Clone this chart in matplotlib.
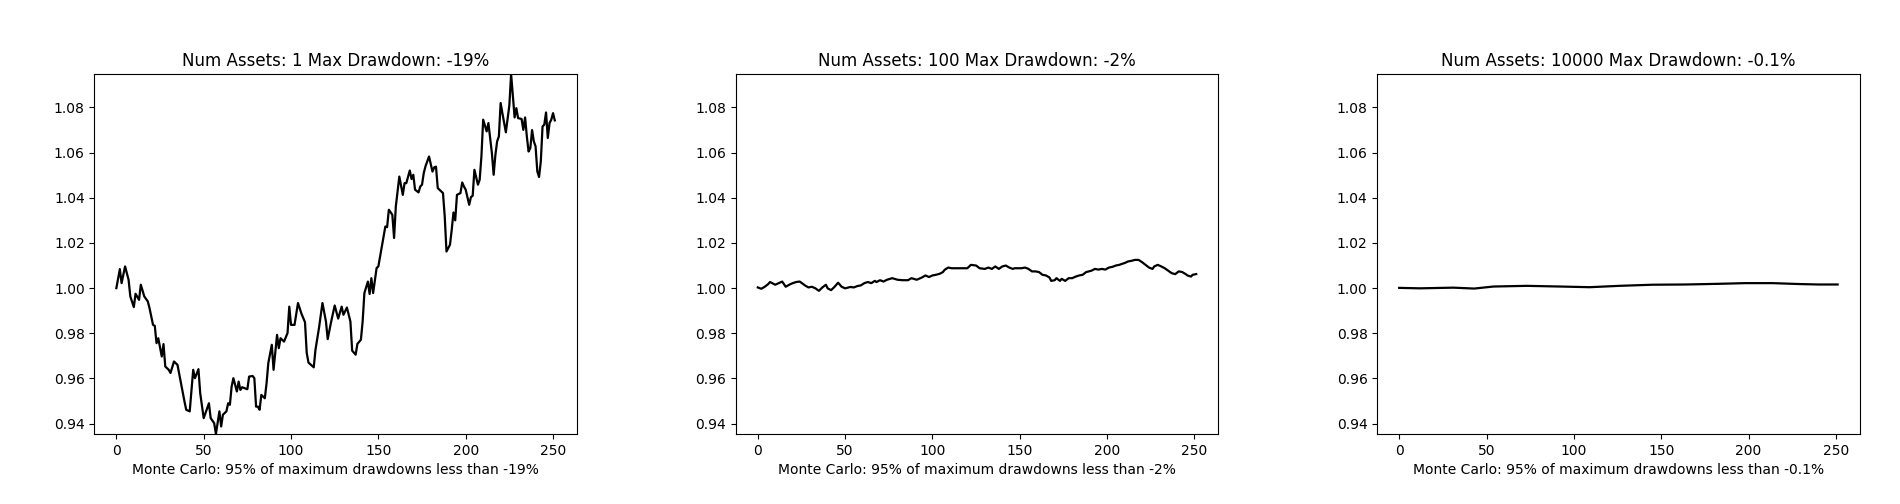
from matplotlib import pyplot as plt
import numpy as np

# values, trading day -> normalised portfolio value
days_1 = [0, 2, 3, 5, 7, 8, 10, 11, 13, 14, 16, 18, 19, 21, 22, 23, 24, 26, 27, 28,
          30, 31, 33, 35, 37, 39, 40, 42, 44, 45, 47, 48, 50, 51, 53, 54, 56, 57, 59, 60,
          61, 63, 64, 65, 66, 67, 69, 70, 71, 72, 75, 76, 78, 79, 80, 81, 82, 83, 85, 86,
          87, 89, 90, 92, 93, 94, 96, 98, 99, 100, 102, 104, 106, 108, 109, 110, 113, 114, 116, 118,
          120, 121, 123, 125, 127, 129, 130, 132, 134, 135, 137, 138, 140, 141, 142, 144, 145, 146, 147, 149,
          150, 152, 154, 155, 156, 158, 159, 160, 162, 164, 165, 166, 168, 169, 170, 171, 173, 174, 175, 176,
          177, 179, 181, 182, 183, 184, 186, 187, 188, 189, 191, 192, 193, 194, 195, 197, 198, 199, 200, 202,
          203, 204, 205, 207, 208, 209, 210, 212, 213, 215, 216, 217, 218, 219, 220, 221, 223, 225, 226, 227,
          228, 229, 230, 232, 233, 234, 235, 236, 237, 238, 239, 240, 241, 242, 243, 244, 245, 246, 247, 248,
          249, 250, 251]
value_1 = [1.0000, 1.0084, 1.0022, 1.0096, 1.0037, 0.9963, 0.9916, 0.9975, 0.9948, 1.0015,
           0.9963, 0.9941, 0.9911, 0.9837, 0.9833, 0.9756, 0.9778, 0.9697, 0.9752, 0.9653,
           0.9638, 0.9624, 0.9675, 0.9660, 0.9579, 0.9498, 0.9461, 0.9454, 0.9638, 0.9601,
           0.9641, 0.9535, 0.9424, 0.9446, 0.9490, 0.9424, 0.9402, 0.9354, 0.9454, 0.9387,
           0.9439, 0.9454, 0.9490, 0.9483, 0.9564, 0.9601, 0.9542, 0.9586, 0.9549, 0.9561,
           0.9552, 0.9608, 0.9611, 0.9601, 0.9475, 0.9475, 0.9461, 0.9527, 0.9512, 0.9579,
           0.9668, 0.9749, 0.9638, 0.9793, 0.9734, 0.9778, 0.9763, 0.9801, 0.9918, 0.9837,
           0.9837, 0.9934, 0.9886, 0.9849, 0.9712, 0.9670, 0.9649, 0.9727, 0.9823, 0.9934,
           0.9852, 0.9774, 0.9852, 0.9923, 0.9865, 0.9918, 0.9882, 0.9914, 0.9852, 0.9723,
           0.9705, 0.9753, 0.9771, 0.9852, 0.9978, 1.0029, 0.9974, 1.0044, 0.9978, 1.0089,
           1.0096, 1.0184, 1.0273, 1.0270, 1.0347, 1.0325, 1.0222, 1.0362, 1.0494, 1.0413,
           1.0465, 1.0465, 1.0521, 1.0483, 1.0502, 1.0436, 1.0424, 1.0450, 1.0458, 1.0510,
           1.0540, 1.0583, 1.0516, 1.0535, 1.0538, 1.0443, 1.0428, 1.0421, 1.0317, 1.0162,
           1.0192, 1.0258, 1.0335, 1.0300, 1.0413, 1.0421, 1.0468, 1.0450, 1.0436, 1.0369,
           1.0403, 1.0409, 1.0524, 1.0458, 1.0480, 1.0583, 1.0746, 1.0694, 1.0731, 1.0598,
           1.0502, 1.0590, 1.0650, 1.0672, 1.0820, 1.0775, 1.0690, 1.0810, 1.0948, 1.0849,
           1.0756, 1.0797, 1.0753, 1.0749, 1.0701, 1.0756, 1.0672, 1.0605, 1.0620, 1.0700,
           1.0650, 1.0628, 1.0517, 1.0492, 1.0561, 1.0716, 1.0724, 1.0778, 1.0665, 1.0731,
           1.0746, 1.0775, 1.0743]

days_100 = [0, 2, 4, 6, 7, 10, 12, 14, 16, 18, 20, 22, 24, 26, 27, 29, 31, 33, 35, 37,
            39, 40, 42, 44, 46, 48, 50, 53, 55, 57, 59, 61, 63, 65, 67, 68, 70, 72, 74, 77,
            80, 83, 86, 88, 91, 94, 96, 98, 100, 102, 104, 106, 107, 109, 111, 114, 117, 120, 122, 125,
            127, 130, 132, 134, 136, 138, 140, 142, 144, 146, 147, 149, 151, 153, 155, 157, 159, 161, 163, 165,
            167, 168, 170, 171, 173, 174, 176, 178, 180, 182, 184, 186, 188, 191, 193, 195, 197, 199, 201, 203,
            205, 207, 208, 210, 212, 214, 216, 218, 220, 222, 224, 226, 227, 229, 231, 233, 235, 237, 239, 241,
            243, 245, 246, 248, 249, 251]
value_100 = [1.0003, 0.9997, 1.0006, 1.0018, 1.0027, 1.0015, 1.0022, 1.0029, 1.0006, 1.0015,
             1.0022, 1.0027, 1.0029, 1.0018, 1.0012, 1.0003, 1.0006, 0.9999, 0.9988, 1.0003,
             1.0015, 0.9999, 0.9991, 1.0006, 1.0024, 1.0006, 0.9999, 1.0005, 1.0003, 1.0009,
             1.0012, 1.0022, 1.0027, 1.0022, 1.0032, 1.0027, 1.0035, 1.0029, 1.0037, 1.0044,
             1.0037, 1.0035, 1.0035, 1.0044, 1.0037, 1.0047, 1.0056, 1.0049, 1.0056, 1.0059,
             1.0063, 1.0071, 1.0081, 1.0091, 1.0088, 1.0088, 1.0088, 1.0088, 1.0103, 1.0100,
             1.0088, 1.0085, 1.0091, 1.0085, 1.0096, 1.0085, 1.0096, 1.0100, 1.0091, 1.0085,
             1.0088, 1.0088, 1.0088, 1.0091, 1.0085, 1.0074, 1.0074, 1.0071, 1.0059, 1.0056,
             1.0047, 1.0032, 1.0035, 1.0044, 1.0032, 1.0041, 1.0032, 1.0044, 1.0044, 1.0051,
             1.0056, 1.0059, 1.0071, 1.0077, 1.0085, 1.0082, 1.0085, 1.0082, 1.0091, 1.0094,
             1.0100, 1.0103, 1.0106, 1.0111, 1.0118, 1.0121, 1.0125, 1.0125, 1.0115, 1.0103,
             1.0091, 1.0085, 1.0096, 1.0103, 1.0096, 1.0088, 1.0077, 1.0066, 1.0062, 1.0074,
             1.0071, 1.0062, 1.0056, 1.0051, 1.0059, 1.0062]

days_10000 = [0, 12, 31, 43, 54, 73, 92, 109, 126, 145, 164, 183, 198, 214, 229, 240, 251]
value_10000 = [1.0001, 0.9999, 1.0002, 0.9998, 1.0007, 1.0010, 1.0007, 1.0004, 1.0010, 1.0015,
               1.0016, 1.0019, 1.0022, 1.0022, 1.0018, 1.0016, 1.0016]

num_assets = [1, 100, 10000]
max_drawdown = ["-19%", "-2%", "-0.1%"]
mc_drawdown = ["-19%", "-2%", "-0.1%"]


def plotPanel(ax, days, values, n, dd, mc, ylim):
    ax.plot(days, values, color="k", linewidth=1.6)
    ax.set_title(f"Num Assets: {n} Max Drawdown: {dd}")
    ax.set_xlabel(f"Monte Carlo: 95% of maximum drawdowns less than {mc}")
    ax.set_ylim(ylim)
    ax.set_xticks([0, 50, 100, 150, 200, 250])


def main():
    fig, axs = plt.subplots(1, 3, figsize=(19, 5.04), dpi=100)
    fig.subplots_adjust(left=0.0497, right=0.9787, bottom=0.139, top=0.853, wspace=0.33)
    ylim = (min(value_1), max(value_1))
    series = [(days_1, value_1), (days_100, value_100), (days_10000, value_10000)]
    for i, (d, v) in enumerate(series):
        plotPanel(axs[i], d, v, num_assets[i], max_drawdown[i], mc_drawdown[i], ylim)
    fig.savefig("out.png", dpi=100)
    plt.close()


if __name__ == "__main__":
    main()
